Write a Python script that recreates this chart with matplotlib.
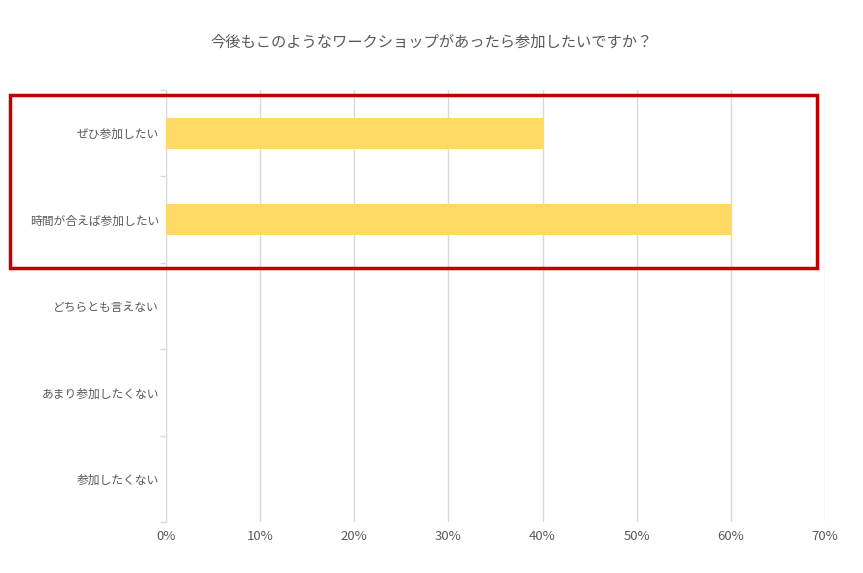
import matplotlib.pyplot as plt
from matplotlib.patches import Rectangle
from matplotlib.ticker import PercentFormatter

plt.rcParams['font.family'] = ['Noto Sans CJK JP', 'DejaVu Sans']

title = "今後もこのようなワークショップがあったら参加したいですか？"
categories = ["ぜひ参加したい", "時間が合えば参加したい", "どちらとも言えない",
              "あまり参加したくない", "参加したくない"]
values = [40, 60, 0, 0, 0]
xticks = [0, 10, 20, 30, 40, 50, 60, 70]

TEXT = "#595959"
GRID = "#d9d9d9"


def main():
    fig = plt.figure(figsize=(8.63, 5.73), dpi=100)
    ax = fig.add_axes([166 / 863, 1 - 522 / 573, (825 - 166) / 863, (522 - 90) / 573])

    pos = list(range(len(categories)))
    ax.barh(pos, values, height=0.36, color="#ffd966", zorder=3)
    ax.set_ylim(len(categories) - 0.5, -0.5)
    ax.set_xlim(0, 70)
    ax.set_xticks(xticks)
    ax.xaxis.set_major_formatter(PercentFormatter(decimals=0))
    ax.set_yticks(pos)
    ax.set_yticklabels(categories)
    # category boundary ticks on the left axis
    ax.set_yticks([p - 0.5 for p in pos] + [len(categories) - 0.5], minor=True)
    ax.tick_params(axis="y", which="major", length=0, labelsize=8.5, labelcolor=TEXT, pad=5)
    ax.tick_params(axis="y", which="minor", length=4, color=GRID, width=1)
    ax.tick_params(axis="x", length=0, labelsize=9.5, labelcolor=TEXT, pad=6)

    ax.grid(axis="x", color=GRID, linewidth=1, zorder=0)
    for s in ["top", "right", "bottom"]:
        ax.spines[s].set_visible(False)
    ax.spines["left"].set_color(GRID)

    fig.text(0.5, 1 - 42 / 573, title, ha="center", va="center", fontsize=11, color=TEXT)

    # red highlight box around the first two answers
    fig.patches.append(Rectangle((10 / 863, 1 - 268 / 573), (817 - 10) / 863, (268 - 95) / 573,
                                 transform=fig.transFigure, fill=False,
                                 edgecolor="#c00000", linewidth=2.5, zorder=10))

    fig.savefig("out.png", dpi=100)


if __name__ == "__main__":
    main()
